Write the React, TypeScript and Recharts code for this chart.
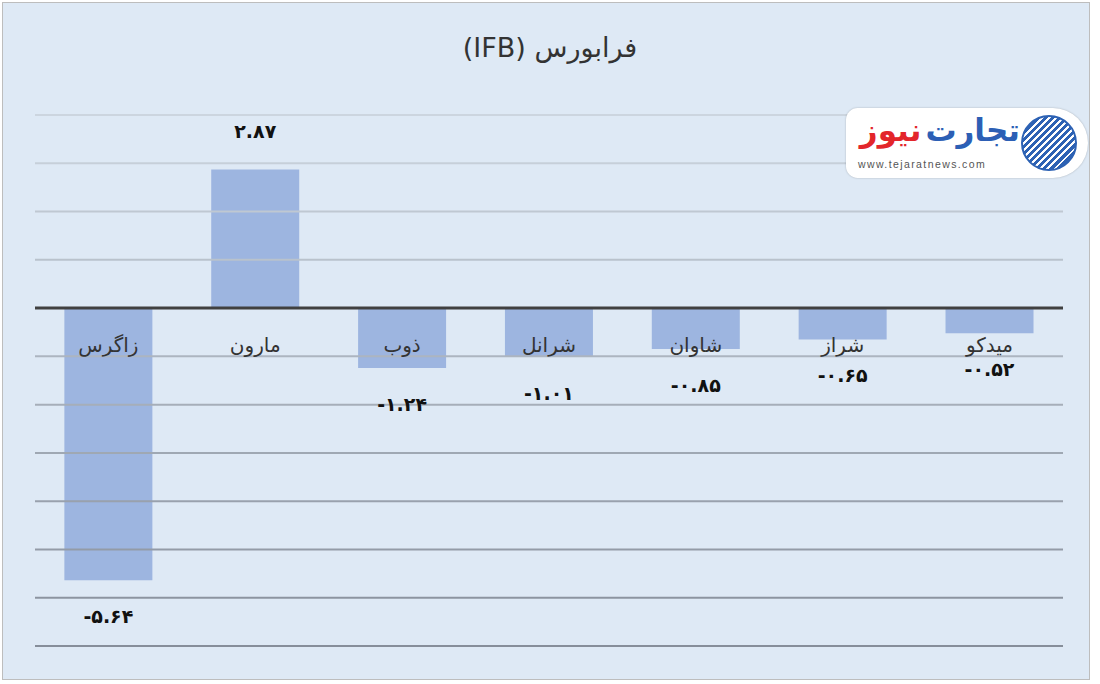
import React from "react"
import { Bar, BarChart, LabelList, ReferenceLine, XAxis, YAxis } from "recharts"

const symbols = ["زاگرس", "مارون", "ذوب", "شرانل", "شاوان", "شراز", "میدکو"]
const changes = [-5.64, 2.87, -1.24, -1.01, -0.85, -0.65, -0.52]
const gridTicks = [4, 3, 2, 1, -1, -2, -3, -4, -5, -6, -7]

const data = symbols.map((name, i) => ({ name, value: changes[i] }))

const faDigits = "۰۱۲۳۴۵۶۷۸۹"
const toFa = (v: number) =>
  v.toFixed(2).replace(/[0-9]/g, (d) => faDigits[Number(d)])

// grid lines get darker toward the bottom of the plot
const gridColor = (t: number) => {
  const k = (4 - t) / 11
  const c = (a: number, b: number) => Math.round(a + (b - a) * k)
  return `rgb(${c(204, 134)},${c(213, 142)},${c(223, 154)})`
}

const CategoryLabel = (props: any) => {
  const { x, y, width, height, index } = props
  const zeroY = y + height
  return (
    <text
      x={x + width / 2}
      y={zeroY + 37}
      textAnchor="middle"
      dominantBaseline="central"
      fill="#333"
      fontSize={20}
      fontFamily="DejaVu Sans, sans-serif"
    >
      {symbols[index]}
    </text>
  )
}

const ValueLabel = (props: any) => {
  const { x, y, width, value } = props
  const ty = value < 0 ? y + 36 : y - 39
  return (
    <text
      x={x + width / 2}
      y={ty}
      textAnchor="middle"
      dominantBaseline="central"
      fill="#111"
      fontSize={19}
      fontWeight="bold"
      fontFamily="DejaVu Sans, sans-serif"
      style={{ direction: "ltr", unicodeBidi: "embed" } as any}
    >
      {toFa(value)}
    </text>
  )
}

function Logo() {
  return (
    <div
      style={{
        position: "absolute",
        left: 846,
        top: 108,
        width: 242,
        height: 70,
        background: "white",
        borderRadius: "12px 36px 36px 12px",
        boxShadow: "0 0 2px rgba(0,0,0,0.25)",
        fontFamily: "DejaVu Sans, sans-serif",
      }}
    >
      <div
        dir="rtl"
        style={{
          position: "absolute",
          right: 68,
          top: 2,
          fontSize: 31,
          fontWeight: "bold",
          lineHeight: "40px",
          whiteSpace: "nowrap",
        }}
      >
        <span style={{ color: "#2c5fb5", display: "inline-block", marginLeft: 4 }}>تجارت</span>
        <span style={{ color: "#e3262b", display: "inline-block" }}>نیوز</span>
      </div>
      <div
        style={{
          position: "absolute",
          left: 12,
          top: 50,
          fontSize: 10.5,
          letterSpacing: 1.4,
          color: "#555",
          fontFamily: "Arial, Liberation Sans, sans-serif",
        }}
      >
        www.tejaratnews.com
      </div>
      <div
        style={{
          position: "absolute",
          left: 175,
          top: 7,
          width: 56,
          height: 56,
          borderRadius: "50%",
          background:
            "repeating-linear-gradient(135deg, #2d62b4 0px, #2d62b4 3px, #ffffff 3px, #ffffff 5px)",
          border: "2px solid #2d62b4",
          boxSizing: "border-box",
        }}
      />
    </div>
  )
}

export default function App() {
  return (
    <div style={{ position: "absolute", left: 0, top: 0, width: 1100, height: 684, background: "#ffffff" }}>
      <div
        style={{
          position: "absolute",
          left: 2,
          top: 2,
          width: 1088,
          height: 678,
          background: "#dee9f5",
          border: "1px solid #bdbdbd",
          boxSizing: "border-box",
        }}
      />
      <div
        dir="rtl"
        style={{
          position: "absolute",
          left: 0,
          top: 32,
          width: 1100,
          textAlign: "center",
          fontSize: 27,
          color: "#333",
          fontFamily: "DejaVu Sans, sans-serif",
        }}
      >
        فرابورس (IFB)
      </div>
      <div style={{ position: "absolute", left: 0, top: 0 }}>
        <BarChart
          width={1100}
          height={684}
          data={data}
          margin={{ top: 115, right: 37, bottom: 38, left: 35 }}
          barCategoryGap="20%"
        >
          <XAxis dataKey="name" hide />
          <YAxis hide domain={[-7, 4]} ticks={[-7, -6, -5, -4, -3, -2, -1, 0, 1, 2, 3, 4]} />
          {gridTicks.map((t) => (
            <ReferenceLine key={t} y={t} stroke={gridColor(t)} strokeWidth={2} />
          ))}
          <Bar dataKey="value" fill="#9db5e0" isAnimationActive={false}>
            <LabelList dataKey="value" content={<CategoryLabel />} />
            <LabelList dataKey="value" content={<ValueLabel />} />
          </Bar>
          <ReferenceLine y={0} stroke="#404040" strokeWidth={3} />
        </BarChart>
      </div>
      <Logo />
    </div>
  )
}
